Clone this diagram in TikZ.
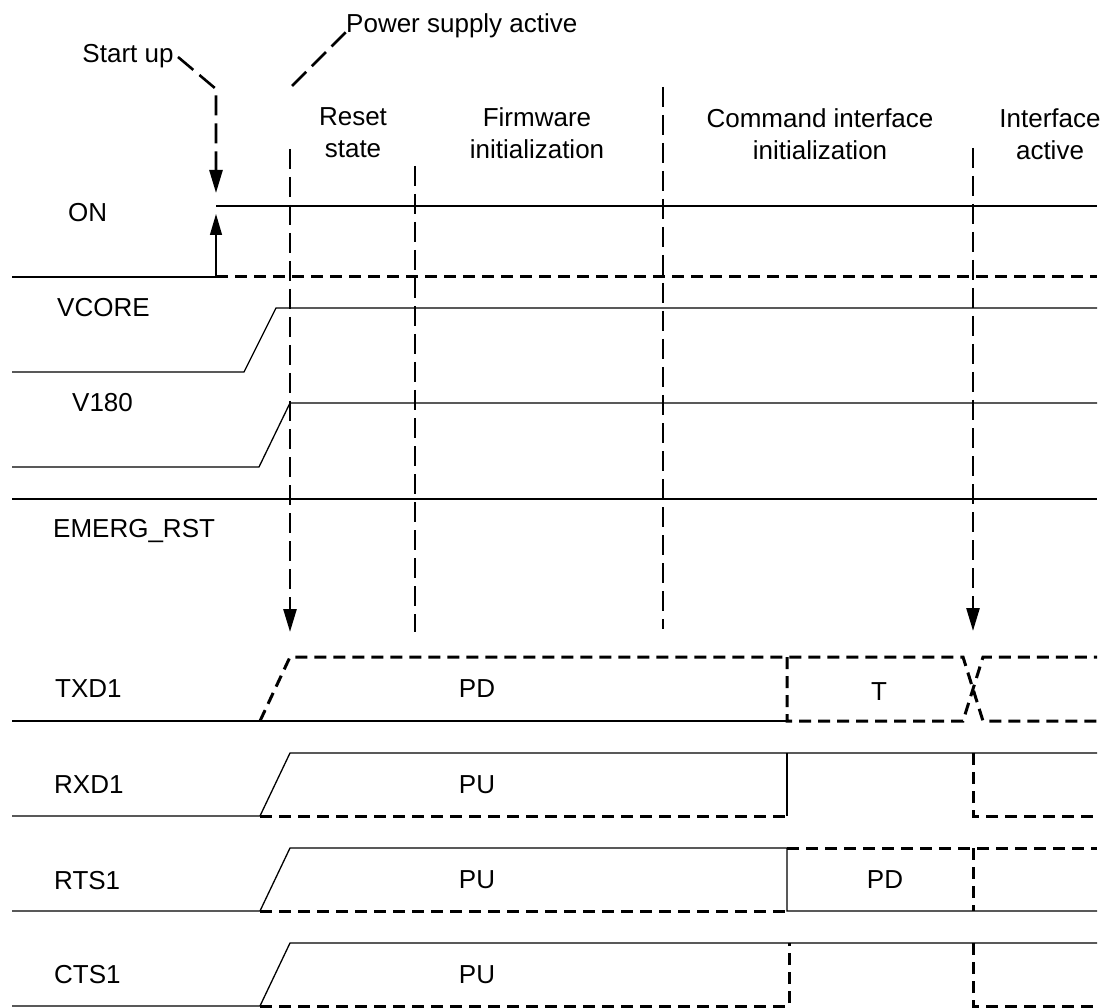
\documentclass[tikz,border=0pt]{standalone}
\usepackage{fontspec}
\setmainfont{Liberation Sans}
\usetikzlibrary{arrows.meta}
\tikzset{
  sig/.style={line width=1.3pt, line join=miter},
  dsig/.style={line width=3pt, dash pattern=on 12pt off 7pt},
  phase/.style={line width=2.6pt, dash pattern=on 20pt off 8pt},
  tip/.style={-{Triangle[length=23pt,width=13pt]}},
  lbl/.style={inner sep=0pt, font=\fontsize{26}{32}\selectfont},
  hdr/.style={lbl, align=center, anchor=center}
}
\begin{document}
\begin{tikzpicture}[x=1pt,y=-1pt]
\useasboundingbox (0,0) rectangle (1109,1008);
\fill[white] (0,0) rectangle (1109,1008);

% headers
\node[lbl, anchor=base] (startup) at (128,63) {Start up};
\node[lbl, anchor=base west] (psa) at (346,33) {Power supply active};
\node[hdr] (reset) at (353,133) {Reset\\state};
\node[hdr] (fw) at (537,133) {Firmware\\initialization};
\node[hdr] (cmd) at (820,134) {Command interface\\initialization};
\node[hdr] (ifa) at (1050,134) {Interface\\active};

% signal names
\node[lbl, anchor=base west] (on) at (68,222) {ON};
\node[lbl, anchor=base west] (vcore) at (57,317) {VCORE};
\node[lbl, anchor=base west] (v180) at (72,411) {V180};
\node[lbl, anchor=base west] (emerg) at (53,537) {EMERG\_RST};
\node[lbl, anchor=base west] (txd) at (55,697) {TXD1};
\node[lbl, anchor=base west] (rxd) at (54,793) {RXD1};
\node[lbl, anchor=base west] (rts) at (54,889) {RTS1};
\node[lbl, anchor=base west] (cts) at (54,983) {CTS1};

% state labels
\node[lbl, anchor=base] (pdtx) at (477,697) {PD};
\node[lbl, anchor=base] (ttx) at (879,700) {T};
\node[lbl, anchor=base] (purx) at (477,793) {PU};
\node[lbl, anchor=base] (purts) at (477,888) {PU};
\node[lbl, anchor=base] (pdrts) at (885,888) {PD};
\node[lbl, anchor=base] (pucts) at (477,983) {PU};

% phase markers
\draw[phase, tip] (290,149) -- (290,632);
\draw[phase] (415,166) -- (415,632);
\draw[phase] (663,87) -- (663,629);
\draw[phase, tip] (973,148) -- (973,631);
\draw[phase] (292,86) -- (347,31);
\draw[phase, tip] (178,57) -- (216,89) -- (216,193);

% ON
\draw[sig] (12,277) -- (216,277);
\draw[dsig] (216,277) -- (1097,277);
\draw[sig] (216,206) -- (1097,206);
\draw[sig, -{Triangle[length=21pt,width=12pt]}] (216,277) -- (216,214);

% VCORE, V180, EMERG_RST
\draw[sig] (12,372) -- (244,372) -- (276,308) -- (1097,308);
\draw[sig] (12,467) -- (259,467) -- (290,403) -- (1097,403);
\draw[sig] (12,499) -- (1097,499);

% TXD1
\draw[sig] (12,721) -- (787,721);
\draw[dsig] (260,721) -- (290,657) -- (963,657) -- (983,721) -- (1097,721);
\draw[dsig] (787,657) -- (787,721) -- (963,721) -- (983,657) -- (1097,657);

% RXD1
\draw[sig] (12,816) -- (260,816) -- (290,753) -- (1097,753);
\draw[dsig] (260,816) -- (787,816);
\draw[sig] (787,753) -- (787,816);
\draw[dsig] (973,753) -- (973,816) -- (1097,816);

% RTS1
\draw[sig] (12,911) -- (260,911) -- (290,848) -- (787,848) -- (787,911) -- (1097,911);
\draw[dsig] (260,911) -- (787,911);
\draw[dsig] (787,848) -- (1097,848);
\draw[dsig] (973,848) -- (973,911);

% CTS1
\draw[sig] (12,1006) -- (260,1006) -- (290,943) -- (1097,943);
\draw[dsig] (260,1006) -- (789,1006) -- (789,943);
\draw[dsig] (973,943) -- (973,1006) -- (1097,1006);
\end{tikzpicture}
\end{document}
